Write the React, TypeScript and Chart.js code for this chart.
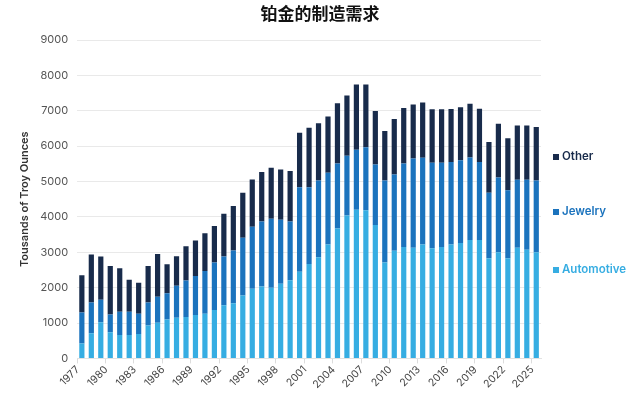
import React, { useEffect, useRef } from "react";
import { Chart, registerables } from "chart.js";

Chart.register(...registerables);

const years: string[] = [
  "1977","1978","1979","1980","1981","1982","1983","1984","1985","1986",
  "1987","1988","1989","1990","1991","1992","1993","1994","1995","1996",
  "1997","1998","1999","2000","2001","2002","2003","2004","2005","2006",
  "2007","2008","2009","2010","2011","2012","2013","2014","2015","2016",
  "2017","2018","2019","2020","2021","2022","2023","2024","2025",
];

const automotive: number[] = [
  420, 710, 1020, 740, 660, 660, 690, 930, 1010, 1100,
  1150, 1170, 1230, 1260, 1370, 1500, 1560, 1780, 1970, 2030,
  2000, 2110, 2210, 2450, 2670, 2860, 3220, 3670, 4040, 4200,
  4190, 3770, 2710, 3040, 3150, 3130, 3220, 3110, 3150, 3220,
  3260, 3350, 3350, 2830, 3000, 2830, 3130, 3070, 3000,
];

const jewelry: number[] = [
  880, 870, 640, 500, 660, 660, 570, 650, 730, 740,
  900, 1030, 1100, 1210, 1340, 1380, 1490, 1630, 1750, 1840,
  1950, 1810, 1660, 2390, 2170, 2170, 2030, 1840, 1690, 1700,
  1780, 1710, 2320, 2160, 2360, 2520, 2450, 2420, 2380, 2330,
  2340, 2330, 2200, 1850, 2110, 1920, 1920, 1980, 2030,
];

const other: number[] = [
  1050, 1360, 1220, 1370, 1230, 900, 880, 1030, 1210, 820,
  840, 970, 1000, 1070, 1030, 1210, 1260, 1270, 1340, 1400,
  1440, 1420, 1430, 1540, 1680, 1620, 1590, 1700, 1700, 1840,
  1770, 1510, 1400, 1570, 1570, 1530, 1560, 1510, 1510, 1500,
  1500, 1520, 1510, 1440, 1520, 1470, 1530, 1530, 1510,
];

const seriesNames = ["Automotive", "Jewelry", "Other"];
const seriesColors = ["#36ade2", "#1b73bd", "#182b4b"];
const titleText = "铂金的制造需求";
const yTitle = "Tousands of Troy Ounces";

const FONT = "Inter, 'Noto Sans', sans-serif";

const sideLegend = {
  id: "sideLegend",
  afterDraw(chart: any) {
    const { ctx, chartArea, width } = chart;
    ctx.save();
    ctx.font = "bold 17px 'Noto Sans CJK SC', sans-serif";
    ctx.fillStyle = "#111";
    ctx.textAlign = "center";
    ctx.textBaseline = "middle";
    ctx.fillText(titleText, width / 2, 14);

    const items = [
      { name: seriesNames[2], color: seriesColors[2], y: 157 },
      { name: seriesNames[1], color: seriesColors[1], y: 212 },
      { name: seriesNames[0], color: seriesColors[0], y: 270 },
    ];
    const x0 = chartArea.right + 12;
    ctx.font = `600 11.5px ${FONT}`;
    ctx.textBaseline = "middle";
    ctx.textAlign = "left";
    for (const it of items) {
      ctx.fillStyle = it.color;
      ctx.fillRect(x0, it.y - 3, 6, 6);
      ctx.fillText(it.name, x0 + 9, it.y);
    }
    ctx.restore();
  },
};

export default function App() {
  const ref = useRef<HTMLCanvasElement | null>(null);

  useEffect(() => {
    if (!ref.current) return;
    const chart = new Chart(ref.current, {
      type: "bar",
      data: {
        labels: years,
        datasets: [
          { label: seriesNames[0], data: automotive, backgroundColor: seriesColors[0] },
          { label: seriesNames[1], data: jewelry, backgroundColor: seriesColors[1] },
          { label: seriesNames[2], data: other, backgroundColor: seriesColors[2] },
        ],
      },
      options: {
        animation: false,
        responsive: false,
        maintainAspectRatio: false,
        datasets: { bar: { categoryPercentage: 1, barPercentage: 0.55 } },
        layout: { padding: { left: 18, right: 99, top: 40, bottom: 14 } },
        plugins: {
          legend: { display: false },
          tooltip: { enabled: false },
          title: { display: false },
        },
        scales: {
          x: {
            stacked: true,
            border: { display: true, color: "#e2e2e2" },
            grid: {
              offset: true,
              drawOnChartArea: false,
              tickLength: 5,
              color: (c: any) => (c.index % 3 === 0 ? "#dcdcdc" : "rgba(0,0,0,0)"),
            },
            ticks: {
              autoSkip: false,
              maxRotation: 45,
              minRotation: 45,
              labelOffset: -4,
              padding: 0,
              color: "#444",
              font: { family: FONT, size: 10.5 },
              callback: (_v: any, i: number) => (i % 3 === 0 ? years[i] : ""),
            },
          },
          y: {
            stacked: true,
            min: 0,
            max: 9000,
            border: { display: false },
            grid: { color: "#e9e9e9", drawTicks: false },
            ticks: {
              stepSize: 1000,
              padding: 9,
              color: "#555",
              font: { family: FONT, size: 11 },
              callback: (v: any) => String(v),
            },
            title: {
              display: true,
              text: yTitle,
              color: "#333",
              padding: { top: 0, bottom: 0 },
              font: { family: FONT, size: 11, weight: 600 },
            },
          },
        },
      },
      plugins: [sideLegend],
    });
    return () => chart.destroy();
  }, []);

  return (
    <div style={{ position: "absolute", left: 0, top: 0, width: 640, height: 405, background: "#fff" }}>
      <canvas ref={ref} width={640} height={405} style={{ width: 640, height: 405 }} />
    </div>
  );
}
